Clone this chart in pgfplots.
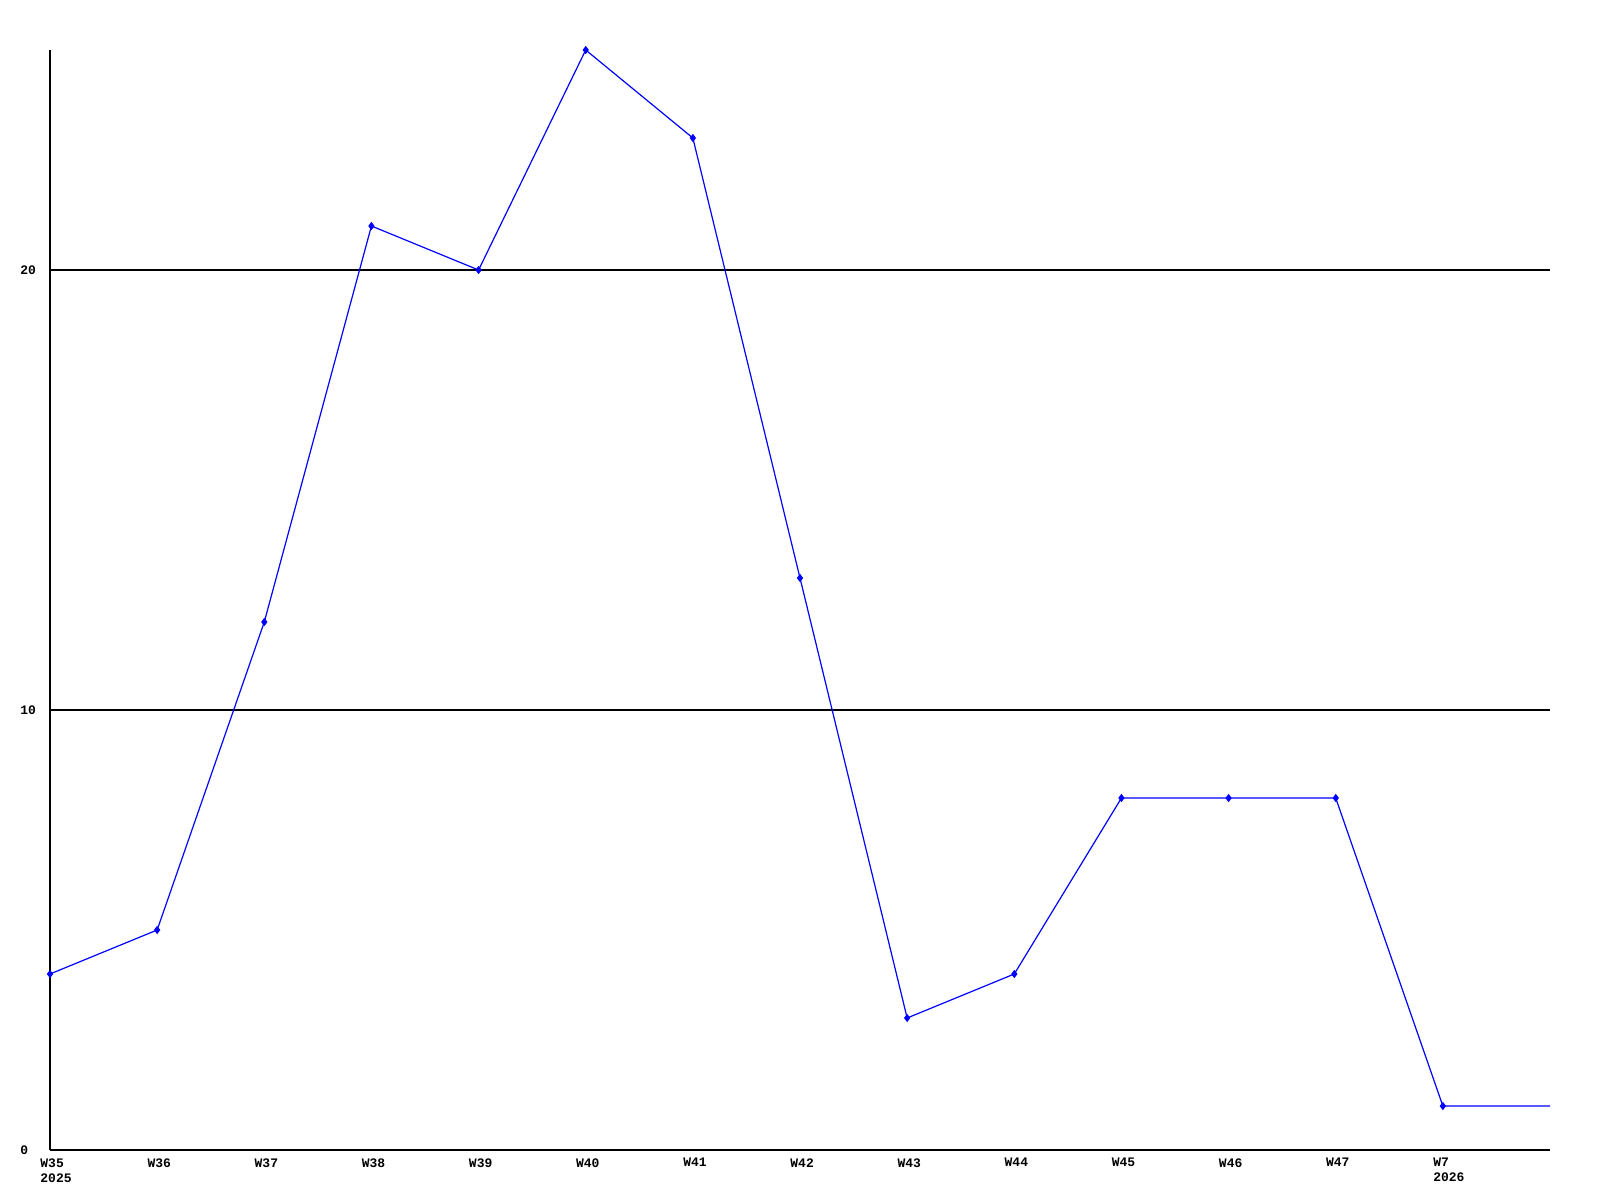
\documentclass[border=0pt]{standalone}
\usepackage{fontspec}
\setmainfont{Liberation Mono}
\usepackage{pgfplots}
\pgfplotsset{compat=1.18}
\begin{document}
\begin{tikzpicture}[x=1pt,y=1pt]
\path[use as bounding box] (0,0) rectangle (800,600);
\begin{axis}[
  at={(25pt,25pt)}, anchor=south west,
  scale only axis, width=750pt, height=550pt,
  xmin=0, xmax=14, ymin=0, ymax=25,
  axis lines=left, axis line style={-, line width=1pt, black},
  clip=false,
  xtick={0,...,13},
  xticklabels={{W35\\2025},W36,W37,W38,W39,W40,W41,W42,W43,W44,W45,W46,W47,{W7\\2026}},
  ytick={0,10,20},
  major tick length=0pt,
  ymajorgrids, grid style={black, line width=0.7pt},
  tick label style={font=\fontsize{6.5}{7.5}\selectfont\bfseries},
  xticklabel style={anchor=north west, align=left, inner sep=0pt, xshift=-5pt, yshift=-4pt},
  yticklabel style={anchor=west, inner sep=0pt, xshift=-15pt},
  /pgf/number format/assume math mode=true,
]
\addplot[blue, line width=0.6pt, mark=diamond*, mark size=1.6pt, mark indices={1,...,14}] coordinates {
(0,4) (1,5) (2,12) (3,21) (4,20) (5,25) (6,23) (7,13) (8,3) (9,4) (10,8) (11,8) (12,8) (13,1) (14,1)
};
\end{axis}
\end{tikzpicture}
\end{document}
